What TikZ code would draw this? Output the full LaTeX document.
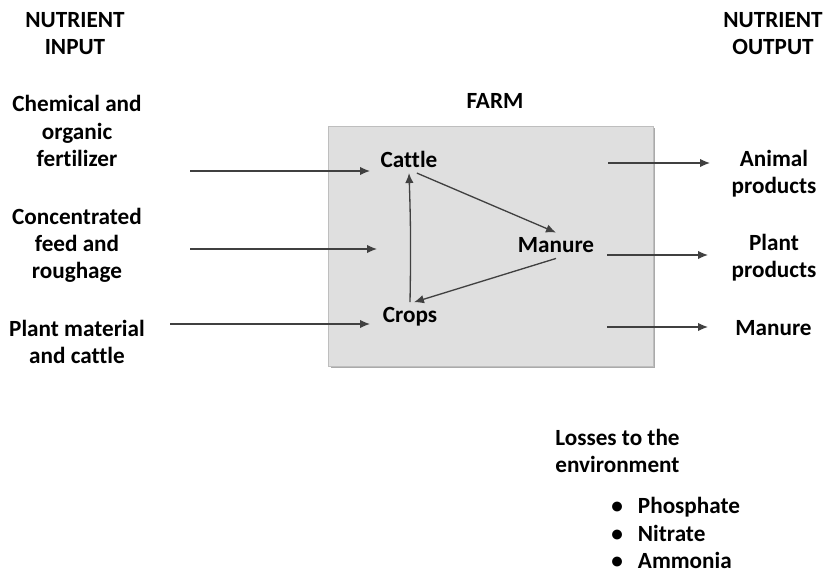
\documentclass[tikz,border=0pt]{standalone}
\usepackage{fontspec}
\setmainfont{Carlito}[Ligatures={NoCommon}]
\usetikzlibrary{arrows.meta}
\definecolor{farmfill}{RGB}{223,223,223}
\definecolor{farmedge}{RGB}{190,190,190}
\definecolor{farmshadow}{RGB}{170,170,170}
\definecolor{flowgray}{RGB}{64,64,64}
\tikzset{
    txt/.style={font=\fontsize{13.2}{15.4}\selectfont\bfseries, inner sep=0pt, align=center},
    item/.style={txt, inner sep=0.1cm},
    flow/.style={draw=flowgray, line width=0.75pt, -{Latex[length=2mm,width=1.7mm]}}
}
\begin{document}
\begin{tikzpicture}[x=0.02cm, y=-0.02cm]
    \useasboundingbox (0,0) rectangle (825,574);
    \fill[farmshadow] (331,128) rectangle (655,368);
    \draw[farmedge, fill=farmfill] (328,126) rectangle (653,366);
    \node[txt] (in) at (75,33.5) {NUTRIENT\\INPUT};
    \node[txt] (out) at (773,33.5) {NUTRIENT\\OUTPUT};
    \node[txt] (farm) at (495,101) {FARM};
    \node[txt] (fert) at (77,131) {Chemical and\\organic\\fertilizer};
    \node[txt] (feed) at (77,245) {Concentrated\\feed and\\roughage};
    \node[txt] (plant) at (77,342) {Plant material\\and cattle};
    \node[item] (cattle) at (409,159.5) {Cattle};
    \node[item] (manure) at (556,245.5) {Manure};
    \node[item] (crops) at (410,317) {Crops};
    \node[txt] (animal) at (774,174) {Animal\\products};
    \node[txt] (plantp) at (774,257.5) {Plant\\products};
    \node[txt] (manureout) at (773.5,328) {Manure};
    \node[txt, align=left, anchor=west] (losses) at (555,450.5) {Losses to the\\environment};
    \node[txt, align=left, anchor=west] (list) at (611,533) {\textbullet\hspace{0.65em}Phosphate\\\textbullet\hspace{0.65em}Nitrate\\\textbullet\hspace{0.65em}Ammonia};
    \coordinate (f1) at (190,171);
    \coordinate (f2) at (370,171);
    \coordinate (c1) at (190,249);
    \coordinate (c2) at (377,249);
    \coordinate (p1) at (170,324);
    \coordinate (p2) at (370,324);
    \coordinate (a1) at (608,163);
    \coordinate (a2) at (710,163);
    \coordinate (b1) at (607,255);
    \coordinate (b2) at (708,255);
    \coordinate (m1) at (607,327);
    \coordinate (m2) at (708,327);
    \draw[flow] (f1) -- (f2);
    \draw[flow] (c1) -- (c2);
    \draw[flow] (p1) -- (p2);
    \draw[flow] (a1) -- (a2);
    \draw[flow] (b1) -- (b2);
    \draw[flow] (m1) -- (m2);
    \draw[flow] (cattle.-60) -- (manure.north);
    \draw[flow] (manure.south) -- (crops.75);
    \draw[flow] (crops.north) to[bend right=1.5] (cattle.south);
\end{tikzpicture}
\end{document}
